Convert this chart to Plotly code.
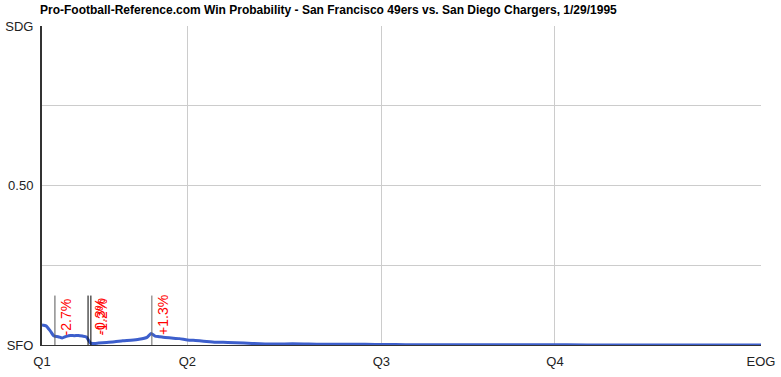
import plotly.graph_objects as go

# Win probability (0 = SFO, 1 = SDG) by play index
plays = [0, 1, 2, 3, 4, 5, 6, 7, 8, 9, 10, 11, 12, 13, 14, 16, 18, 20, 22, 24, 26, 27, 28, 29, 30,
         32, 34, 36, 38, 40, 43, 46, 50, 54, 58, 62, 66, 70, 75, 80, 85, 90, 100, 110, 120, 130,
         140, 150, 160, 170, 178]
wp = [0.063, 0.060, 0.045, 0.028, 0.026, 0.022, 0.027, 0.030, 0.029, 0.030, 0.028, 0.025, 0.006,
      0.005, 0.006, 0.008, 0.010, 0.013, 0.015, 0.018, 0.024, 0.036, 0.028, 0.026, 0.024,
      0.022, 0.020, 0.016, 0.014, 0.012, 0.009, 0.008, 0.006, 0.004, 0.003, 0.004, 0.003, 0.002,
      0.002, 0.002, 0.0015, 0.001, 0.001, 0.0007, 0.0005, 0.0004, 0.0003, 0.0002, 0.0002, 0.0001, 0.0]

event_plays = [3.2, 11.4, 12.1, 27.2]
event_labels = ["-2.7%", "-0.3%", "-1.2%", "+1.3%"]
event_colors = ["#555555", "#000000", "#000000", "#666666"]
event_height = 0.155

x_tick_vals = [0, 36, 84, 127, 178]
x_tick_text = ["Q1", "Q2", "Q3", "Q4", "EOG"]
y_tick_vals = [0, 0.25, 0.5, 0.75, 1]
y_tick_text = ["SFO", "", "0.50", "", "SDG"]

fig = go.Figure()
fig.add_trace(go.Scatter(x=plays, y=wp, mode="lines",
                         line=dict(color="#3d5fcc", width=3, shape="spline", smoothing=0.6),
                         hoverinfo="skip", showlegend=False))

for px, lab, col in zip(event_plays, event_labels, event_colors):
    fig.add_shape(type="line", xref="x", yref="y", x0=px, x1=px, y0=0, y1=event_height,
                  line=dict(color=col, width=1))
    fig.add_annotation(x=px, y=0.025, xref="x", yref="y", text=lab, textangle=-90,
                       showarrow=False, xanchor="left", yanchor="bottom", xshift=1,
                       font=dict(family="Liberation Sans, Arial", size=14, color="#ff0000"))

fig.update_layout(
    width=781, height=377,
    margin=dict(l=42, r=20, t=26, b=32, autoexpand=False),
    paper_bgcolor="white", plot_bgcolor="white",
    title=dict(text="<b>Pro-Football-Reference.com Win Probability - San Francisco 49ers vs. San Diego Chargers, 1/29/1995</b>",
               x=40 / 781, xanchor="left", y=1 - 10 / 377, yanchor="middle",
               font=dict(family="Liberation Sans, Arial", size=12, color="#000000")),
    font=dict(family="Liberation Sans, Arial", size=13, color="#222222"),
)
fig.update_xaxes(range=[0, 178], tickvals=x_tick_vals, ticktext=x_tick_text,
                 showgrid=True, gridcolor="#cccccc", gridwidth=1, zeroline=False,
                 showline=True, linecolor="#333333", linewidth=1, mirror=False,
                 ticks="", ticklabelstandoff=4, fixedrange=True, automargin=False)
fig.update_yaxes(range=[0, 1], tickvals=y_tick_vals, ticktext=y_tick_text,
                 showgrid=True, gridcolor="#cccccc", gridwidth=1, zeroline=False,
                 showline=True, linecolor="#333333", linewidth=2,
                 ticks="", ticklabelstandoff=4, fixedrange=True, automargin=False)

fig.write_html("out.html", config={"displayModeBar": False},
               post_script="document.body.style.margin='0px';document.body.style.padding='0px';")
